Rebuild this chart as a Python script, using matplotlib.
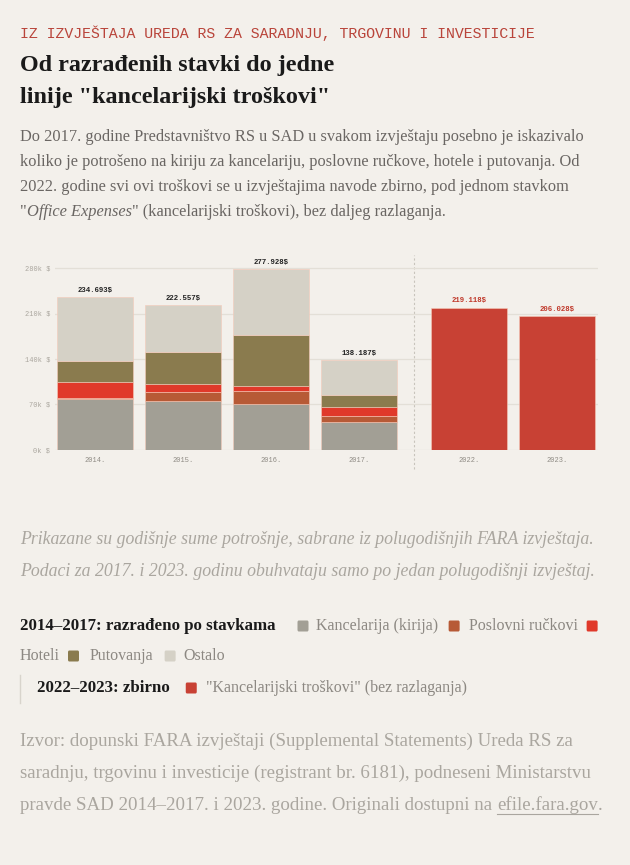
import matplotlib
matplotlib.use('Agg')
import matplotlib.pyplot as plt
from matplotlib.patches import FancyBboxPatch
import numpy as np

# data (thousands of $)
years_detail = ['2014.', '2015.', '2016.', '2017.']
kirija = [78.5, 75.3, 70.7, 43.5]
rucak = [1.5, 13.3, 20.0, 9.2]
hoteli = [24.5, 12.3, 8.2, 12.8]
putovanja = [33.0, 49.7, 77.8, 19.0]
ostalo = [97.2, 72.0, 101.2, 53.7]
totals_detail = ['234.693$', '222.557$', '277.928$', '138.187$']

years_sum = ['2022.', '2023.']
office = [219.118, 206.028]
totals_sum = ['219.118$', '206.028$']

y_ticks = [0, 70, 140, 210, 280]

BG = '#f3f0eb'
C_KIR = '#a29f95'
C_RUC = '#b75a36'
C_HOT = '#e0392a'
C_PUT = '#8a7b4e'
C_OST = '#d5d1c6'
C_OFF = '#c84134'
SERIF = 'Liberation Serif'
MONO = 'Liberation Mono'

W, H = 630, 865
fig = plt.figure(figsize=(W / 100, H / 100), dpi=100, facecolor=BG)
renderer = fig.canvas.get_renderer()


def fx(x):
    return x / W


def fy(y):
    return 1 - y / H


def run(x, y, pieces):
    # place text pieces / squares one after another on a line
    for p in pieces:
        if p[0] == 'sq':
            col = p[1]
            s = 11
            fig.patches.append(FancyBboxPatch((fx(x), fy(y + s / 2)), s / W, s / H,
                                              boxstyle='round,pad=0,rounding_size=0.002',
                                              transform=fig.transFigure, fc=col, ec='none'))
            x += s + p[2]
        elif p[0] == 'gap':
            x += p[1]
        else:
            txt, kw = p
            t = fig.text(fx(x), fy(y), txt, va='center', ha='left', **kw)
            x += t.get_window_extent(renderer).width


# header
fig.text(fx(20), fy(33), 'IZ IZVJEŠTAJA UREDA RS ZA SARADNJU, TRGOVINU I INVESTICIJE',
         family=MONO, fontsize=10.7, color='#b9443a', va='center')
fig.text(fx(20), fy(66), 'Od razrađenih stavki do jedne', family=SERIF,
         fontweight='bold', fontsize=17.4, color='#1a1a1a', va='center')
fig.text(fx(20), fy(98), 'linije "kancelarijski troškovi"', family=SERIF,
         fontweight='bold', fontsize=17.4, color='#1a1a1a', va='center')

body = dict(family=SERIF, fontsize=11.8, color='#6a6663')
fig.text(fx(20), fy(137), 'Do 2017. godine Predstavništvo RS u SAD u svakom izvještaju posebno je iskazivalo',
         va='center', **body)
fig.text(fx(20), fy(162), 'koliko je potrošeno na kiriju za kancelariju, poslovne ručkove, hotele i putovanja. Od',
         va='center', **body)
fig.text(fx(20), fy(187), '2022. godine svi ovi troškovi se u izvještajima navode zbirno, pod jednom stavkom',
         va='center', **body)
run(20, 212, [('"', body), ('Office Expenses', dict(body, style='italic')),
              ('" (kancelarijski troškovi), bez daljeg razlaganja.', body)])

# chart
ax = fig.add_axes([fx(55), fy(450), (598 - 55) / W, (450 - 255) / H])
ax.set_facecolor(BG)
pos_d = np.arange(4)
pos_s = np.array([4.25, 5.25])
bw = 0.87
bottom = np.zeros(4)
for vals, col in [(kirija, C_KIR), (rucak, C_RUC), (hoteli, C_HOT),
                  (putovanja, C_PUT), (ostalo, C_OST)]:
    ax.bar(pos_d, vals, bw, bottom=bottom, color=col, edgecolor='#f6c9b8',
           linewidth=0.4, zorder=3)
    bottom += np.array(vals)
ax.bar(pos_s, office, bw, color=C_OFF, edgecolor='#f6c9b8', linewidth=0.4, zorder=3)

for p, b, lab in zip(pos_d, bottom, totals_detail):
    ax.annotate(lab, (p, b), xytext=(0, 2.5), textcoords='offset points', ha='center',
                va='bottom', family=MONO, fontweight='bold', fontsize=5.3, color='#222222')
for p, b, lab in zip(pos_s, office, totals_sum):
    ax.annotate(lab, (p, b), xytext=(0, 2.5), textcoords='offset points', ha='center',
                va='bottom', family=MONO, fontweight='bold', fontsize=5.3, color='#c0392b')

ax.set_xlim(-0.455, 5.716)
ax.set_ylim(0, 300)
ax.set_yticks(y_ticks)
ax.set_yticklabels([f'{v}k $' for v in y_ticks], family=MONO, fontsize=5, color='#aaa69e')
ax.set_xticks(list(pos_d) + list(pos_s))
ax.set_xticklabels(years_detail + years_sum, family=MONO, fontsize=5, color='#8f8b84')
ax.tick_params(length=0)
ax.tick_params(axis='y', pad=3.5)
ax.tick_params(axis='x', pad=5)
ax.grid(axis='y', color='#e3dfd7', linewidth=0.9, zorder=0)
for s in ax.spines.values():
    s.set_visible(False)
ax.axvline(3.625, ymin=-0.1, ymax=1, color='#c8c4bc', linewidth=0.8,
           linestyle=(0, (2, 2)), clip_on=False, zorder=1)

# note
note = dict(family=SERIF, style='italic', fontsize=12.75, color='#aaa69f', va='center')
fig.text(fx(20), fy(539), 'Prikazane su godišnje sume potrošnje, sabrane iz polugodišnjih FARA izvještaja.', **note)
fig.text(fx(20), fy(572), 'Podaci za 2017. i 2023. godinu obuhvataju samo po jedan polugodišnji izvještaj.', **note)

# legend
bold = dict(family=SERIF, fontweight='bold', fontsize=12.2, color='#1a1a1a')
lab = dict(family=SERIF, fontsize=11.5, color='#8c8882')
run(20, 626, [('2014–2017: razrađeno po stavkama', bold), ('gap', 22),
              ('sq', C_KIR, 8), ('Kancelarija (kirija)', lab), ('gap', 10),
              ('sq', C_RUC, 9), ('Poslovni ručkovi', lab), ('gap', 9),
              ('sq', C_HOT, 0)])
run(20, 656, [('Hoteli', lab), ('gap', 8), ('sq', C_PUT, 11), ('Putovanja', lab),
              ('gap', 11), ('sq', C_OST, 8), ('Ostalo', lab)])
fig.add_artist(plt.Line2D([fx(20), fx(20)], [fy(675), fy(703)], color='#d8d4cc',
                          linewidth=1, transform=fig.transFigure))
run(37, 688, [('2022–2023: zbirno', bold), ('gap', 16), ('sq', C_OFF, 9),
              ('"Kancelarijski troškovi" (bez razlaganja)', lab)])

# source
src = dict(family=SERIF, fontsize=13.6, color='#aaa69f', va='center')
fig.text(fx(20), fy(741), 'Izvor: dopunski FARA izvještaji (Supplemental Statements) Ureda RS za', **src)
fig.text(fx(20), fy(773), 'saradnju, trgovinu i investicije (registrant br. 6181), podneseni Ministarstvu', **src)
t = fig.text(fx(20), fy(805), 'pravde SAD 2014–2017. i 2023. godine. Originali dostupni na ', **src)
x0 = 20 + t.get_window_extent(renderer).width
t2 = fig.text(fx(x0), fy(805), 'efile.fara.gov', **src)
w2 = t2.get_window_extent(renderer).width
fig.text(fx(x0 + w2), fy(805), '.', **src)
fig.add_artist(plt.Line2D([fx(x0), fx(x0 + w2)], [fy(814), fy(814)], color='#aaa69f',
                          linewidth=0.8, transform=fig.transFigure))

fig.savefig('out.png', dpi=100, facecolor=BG)
